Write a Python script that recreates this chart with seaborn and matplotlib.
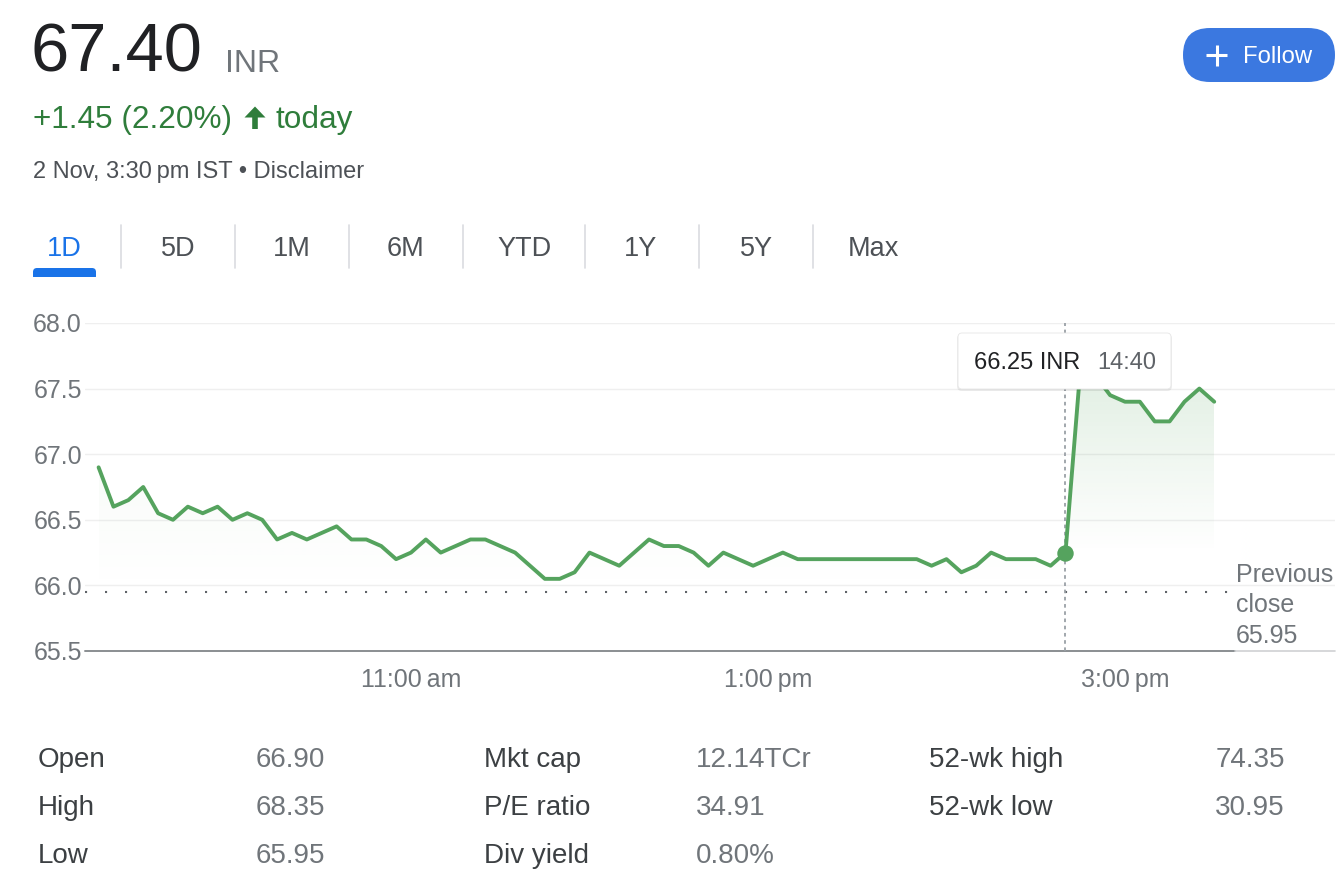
import numpy as np
import matplotlib
matplotlib.use("Agg")
import matplotlib.pyplot as plt
import seaborn as sns
from matplotlib.patches import FancyBboxPatch, Polygon
import matplotlib.colors as mcolors

# ---------------- data ----------------
minutes = np.arange(555, 931, 5)  # 9:15 .. 15:30, 5-minute bars (minutes since midnight)
prices = [66.90, 66.60, 66.65, 66.75, 66.55, 66.50, 66.60, 66.55, 66.60, 66.50,
          66.55, 66.50, 66.35, 66.40, 66.35, 66.40, 66.45, 66.35, 66.35, 66.30,
          66.20, 66.25, 66.35, 66.25, 66.30, 66.35, 66.35, 66.30, 66.25, 66.15,
          66.05, 66.05, 66.10, 66.25, 66.20, 66.15, 66.25, 66.35, 66.30, 66.30,
          66.25, 66.15, 66.25, 66.20, 66.15, 66.20, 66.25, 66.20, 66.20, 66.20,
          66.20, 66.20, 66.20, 66.20, 66.20, 66.20, 66.15, 66.20, 66.10, 66.15,
          66.25, 66.20, 66.20, 66.20, 66.15, 66.25, 67.65, 67.60, 67.45, 67.40,
          67.40, 67.25, 67.25, 67.40, 67.50, 67.40]
prev_close = 65.95
hover_minute = 880  # 14:40
hover_label = "66.25 INR"
hover_time = "14:40"
y_ticks = [65.5, 66.0, 66.5, 67.0, 67.5, 68.0]
x_ticks = [660, 780, 900]
x_tick_labels = ["11:00\u2009am", "1:00\u2009pm", "3:00\u2009pm"]
tabs = ["1D", "5D", "1M", "6M", "YTD", "1Y", "5Y", "Max"]
stat_labels_1 = ["Open", "High", "Low"]
stat_values_1 = ["66.90", "68.35", "65.95"]
stat_labels_2 = ["Mkt cap", "P/E ratio", "Div yield"]
stat_values_2 = ["12.14TCr", "34.91", "0.80%"]
stat_labels_3 = ["52-wk high", "52-wk low"]
stat_values_3 = ["74.35", "30.95"]
price_text = "67.40"
currency = "INR"
change_text = "+1.45 (2.20%)"
date_text = "2 Nov, 3:30\u2009pm IST \u2022 Disclaimer"

# ---------------- style ----------------
sns.set_style("white")
plt.rcParams['font.family'] = ['Liberation Sans', 'DejaVu Sans']

W, H = 1342, 876
fig = plt.figure(figsize=(W / 100, H / 100), dpi=100)
fig.patch.set_facecolor("white")

GREEN_LINE = "#55a35e"
GREEN_TEXT = "#2f7d3b"
GRAY = "#70757a"
DARK = "#202124"

# chart axes (pixel layout: left 85, right 1335, top 323, bottom 651)
ax = fig.add_axes([85 / W, 1 - 651 / H, 1250 / W, 328 / H], zorder=1)
ax.set_facecolor("none")
px_per_min = 2.975
xmin = 555 - (98.6 - 85) / px_per_min
xmax = xmin + 1250 / px_per_min

sns.lineplot(x=minutes, y=prices, ax=ax, color=GREEN_LINE, linewidth=2.8, zorder=4)

prices_arr = np.array(prices)


def gradient_fill(xs, ys, base, y_lo, y_hi, a_max, color):
    poly = ax.fill_between(xs, ys, base, facecolor="none", edgecolor="none")
    path = poly.get_paths()[0]
    rgb = mcolors.to_rgb(color)
    n = 300
    yy = np.linspace(base, 68.2, n)
    z = np.zeros((n, 1, 4))
    z[:, :, :3] = rgb
    z[:, 0, 3] = np.clip((yy - y_lo) / (y_hi - y_lo), 0, 1) * a_max
    im = ax.imshow(z, aspect="auto", origin="lower",
                   extent=[xs.min(), xs.max(), base, 68.2], zorder=2,
                   interpolation="bilinear")
    im.set_clip_path(path, transform=ax.transData)


idx = list(minutes).index(hover_minute)
gradient_fill(minutes[:idx + 1], prices_arr[:idx + 1], prev_close, 65.95, 66.9, 0.04, GREEN_LINE)
gradient_fill(minutes[idx:], prices_arr[idx:], prev_close, 66.25, 67.6, 0.17, GREEN_LINE)

ax.set_xlim(xmin, xmax)
ax.set_ylim(65.5, 68.0)

# grid
for yv in y_ticks[1:]:
    ax.axhline(yv, color="#efefef", lw=1.0, zorder=0)
# baseline
split = (1235 - 85) / 1250
ax.axhline(65.5, xmin=0, xmax=split, color="#8a8e92", lw=1.4, zorder=3, clip_on=False)
ax.axhline(65.5, xmin=split, xmax=1, color="#cfd1d3", lw=1.2, zorder=3, clip_on=False)
# previous close dotted
ax.axhline(prev_close, xmin=0, xmax=(1228 - 85) / 1250, color="#5f6368",
           lw=1.5, linestyle=(0, (1, 8.6)), zorder=3)
# hover cursor
ax.axvline(hover_minute, color="#9aa0a6", lw=1.3, linestyle=(0, (2, 2)), zorder=3)
sns.scatterplot(x=[hover_minute], y=[prices[idx]], ax=ax, s=140, color=GREEN_LINE,
                linewidth=0, zorder=5)

for s in ax.spines.values():
    s.set_visible(False)
ax.set_yticks(y_ticks)
ax.set_yticklabels([f"{v:.1f}" for v in y_ticks])
ax.set_xticks(x_ticks)
ax.set_xticklabels(x_tick_labels)
ax.tick_params(axis="y", length=0, pad=2.2, labelsize=18, labelcolor=GRAY)
ax.tick_params(axis="x", length=7, width=1, color="#8a8e92", direction="out",
               pad=5, labelsize=18, labelcolor=GRAY)
ax.set_xlabel("")
ax.set_ylabel("")
ax.grid(False)

# ---------------- overlay in pixel coordinates ----------------
ov = fig.add_axes([0, 0, 1, 1], zorder=3)
ov.set_facecolor("none")
ov.set_xlim(0, W)
ov.set_ylim(H, 0)
ov.axis("off")

# header
ov.text(31, 72, price_text, fontsize=49.5, color=DARK, va="baseline", ha="left")
ov.text(225, 72, currency, fontsize=23, color=GRAY, va="baseline", ha="left")
ov.text(33, 128, change_text, fontsize=22.7, color=GREEN_TEXT, va="baseline", ha="left")
ov.add_patch(Polygon([(244.5, 117.5), (255, 106.5), (265.5, 117.5), (257.8, 117.5),
                      (257.8, 129), (252.2, 129), (252.2, 117.5)],
                     closed=True, facecolor=GREEN_TEXT, edgecolor="none"))
ov.text(275, 128, "today", fontsize=22.7, color=GREEN_TEXT, va="baseline", ha="left")
ov.text(33, 178, date_text, fontsize=17, color="#4d5156", va="baseline", ha="left")

# follow button
ov.add_patch(FancyBboxPatch((1183, 28), 152, 54, boxstyle="round,pad=0,rounding_size=27",
                            facecolor="#3b78e0", edgecolor="none"))
ov.plot([1206, 1227], [55, 55], color="white", lw=2.2, solid_capstyle="butt")
ov.plot([1216.5, 1216.5], [44.5, 65.5], color="white", lw=2.2, solid_capstyle="butt")
ov.text(1243, 63, "Follow", fontsize=17.2, color="white", va="baseline", ha="left")

# tabs
tab_x = [64, 178, 292, 406, 524, 641, 756, 873]
for t, xc in zip(tabs, tab_x):
    ov.text(xc, 256, t, fontsize=19.5, color="#1a73e8" if t == "1D" else "#4d5156",
            va="baseline", ha="center")
for xs in [121, 235, 349, 463, 585, 699, 813]:
    ov.plot([xs, xs], [225, 268], color="#dadce0", lw=1.2)
ov.add_patch(FancyBboxPatch((33, 268), 63, 12, boxstyle="round,pad=0,rounding_size=4",
                            facecolor="#1a73e8", edgecolor="none"))
ov.add_patch(FancyBboxPatch((30, 276.5), 70, 8, boxstyle="square,pad=0",
                            facecolor="white", edgecolor="none"))

# previous close label
for txt, yb in zip(["Previous", "close", f"{prev_close:.2f}"], [582, 612, 643]):
    ov.text(1236, yb, txt, fontsize=18, color=GRAY, va="baseline", ha="left")

# tooltip
ov.add_patch(FancyBboxPatch((957, 334), 215, 57, boxstyle="round,pad=0,rounding_size=5",
                            facecolor=(0, 0, 0, 0.07), edgecolor="none", zorder=5))
ov.add_patch(FancyBboxPatch((958, 333), 213, 56, boxstyle="round,pad=0,rounding_size=4",
                            facecolor="white", edgecolor="#e6e6e6", lw=0.6, zorder=6))
ov.text(974, 369, hover_label, fontsize=17, color=DARK, va="baseline", ha="left", zorder=7)
ov.text(1097, 369, hover_time, fontsize=17, color="#5f6368", va="baseline", ha="left", zorder=7)

# stats
row_y = [767, 815, 863]
for lab, val, yb in zip(stat_labels_1, stat_values_1, row_y):
    ov.text(38, yb, lab, fontsize=20, color="#3c4043", va="baseline", ha="left")
    ov.text(256, yb, val, fontsize=20, color=GRAY, va="baseline", ha="left")
for lab, val, yb in zip(stat_labels_2, stat_values_2, row_y):
    ov.text(484, yb, lab, fontsize=20, color="#3c4043", va="baseline", ha="left")
    ov.text(696, yb, val, fontsize=20, color=GRAY, va="baseline", ha="left")
for lab, val, yb in zip(stat_labels_3, stat_values_3, row_y):
    ov.text(929, yb, lab, fontsize=20, color="#3c4043", va="baseline", ha="left")
    ov.text(1285, yb, val, fontsize=20, color=GRAY, va="baseline", ha="right")

fig.savefig("out.png", dpi=100, facecolor="white")
